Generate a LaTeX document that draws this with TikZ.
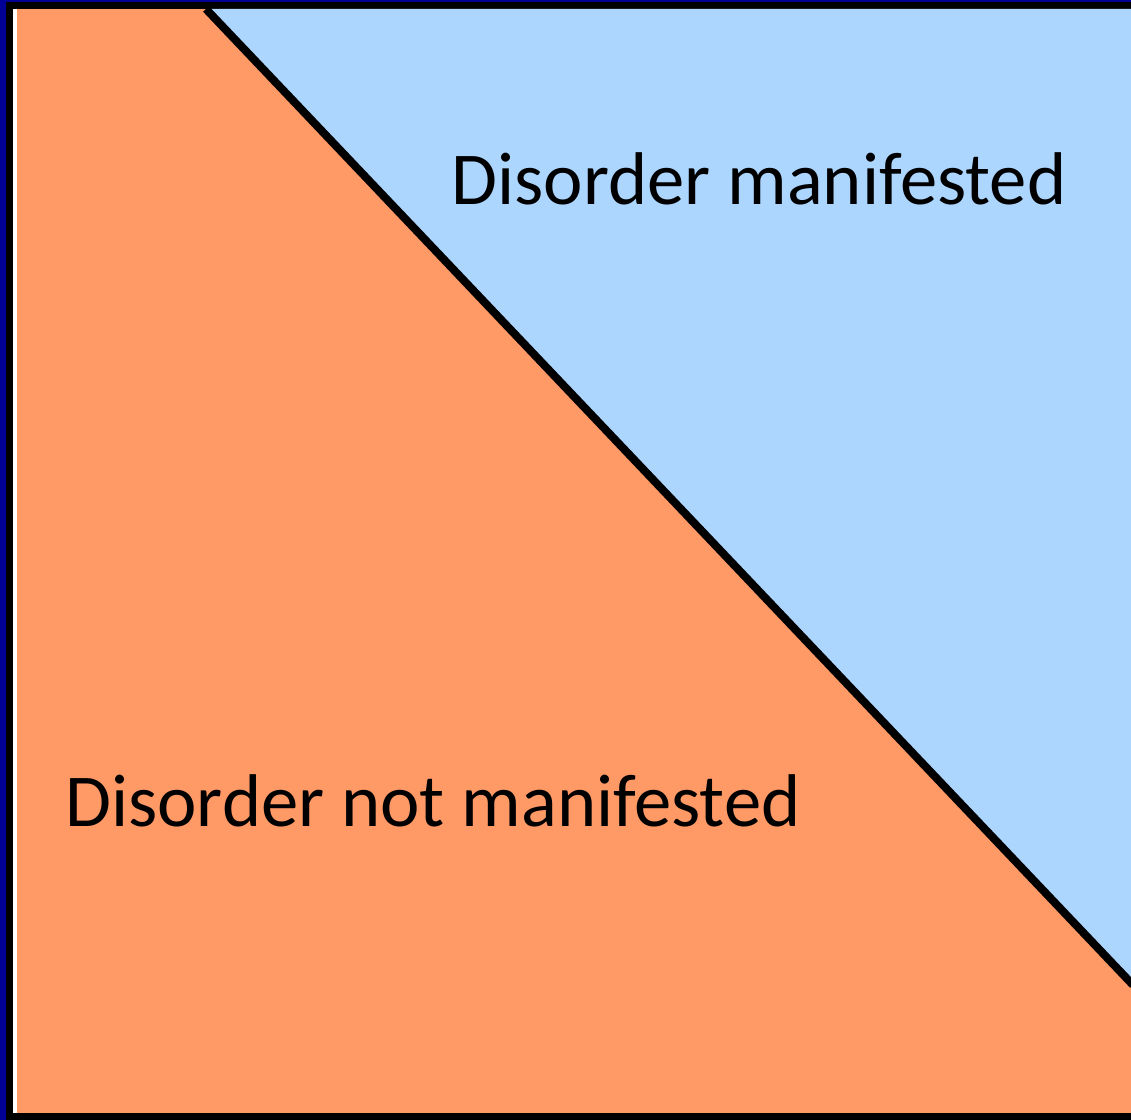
\documentclass[tikz,border=0pt]{standalone}
\usepackage{fontspec}
\setmainfont{Carlito}
\usepackage{tikz}
\definecolor{FrameNavy}{RGB}{0,0,150}
\definecolor{NotOrange}{RGB}{255,153,102}
\definecolor{YesBlue}{RGB}{173,214,255}

\begin{document}
\begin{tikzpicture}[
    x=0.75pt, y=-0.75pt,
    % ── styles ──
    region/.style = {draw=none},
    divide/.style = {draw=black, line width=6pt},
    lbl/.style    = {font=\fontsize{56}{60}\selectfont, text=black, inner sep=0pt},
]

% ── frame
\fill[FrameNavy] (0,0) rectangle (1131,1120);
\fill[black] (6,2) rectangle (1131,1120);
\fill[white] (13,9) rectangle (1131,1113);
\useasboundingbox (0,0) rectangle (1131,1120);

% ── the two regions
\fill[region, NotOrange] (17,9) rectangle (1131,1113);
\fill[region, YesBlue] (208,9) -- (1131,9) -- (1131,982) -- cycle;

% ── dividing line
\coordinate (cut-top) at (206,9);
\coordinate (cut-end) at (1133,985);
\begin{scope}
\clip (17,9) rectangle (1131,1113);
\draw[divide] (cut-top) -- (cut-end);
\end{scope}

% ── labels
\node[lbl] (manif) at (759,179) {Disorder manifested};
\node[lbl] (notmanif) at (433,801) {Disorder not manifested};

\end{tikzpicture}
\end{document}
